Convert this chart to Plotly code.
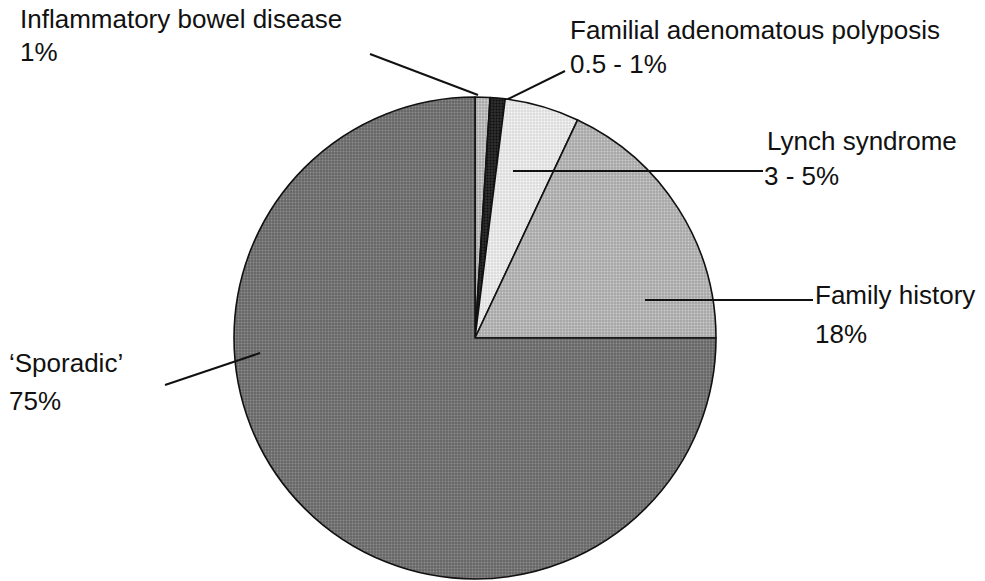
import plotly.graph_objects as go

# Risk categories for colorectal cancer (share of cases, %)
categories = [
    "Inflammatory bowel disease",
    "Familial adenomatous polyposis",
    "Lynch syndrome",
    "Family history",
    "'Sporadic'",
]
values = [1, 1, 5, 18, 75]
value_labels = ["1%", "0.5 - 1%", "3 - 5%", "18%", "75%"]
display_names = [
    "Inflammatory bowel disease",
    "Familial adenomatous polyposis",
    "Lynch syndrome",
    "Family history",
    "\u2018Sporadic\u2019",
]

W, H = 985, 581
slice_colors = ["#a9a9a9", "#2e2e2e", "#dcdcdc", "#a6a6a6", "#666666"]
grain_colors = ["#d6d6d6", "#0e0e0e", "#f8f8f8", "#cdcdcd", "#8e8e8e"]

# pie geometry in pixels
cx, cy, r = 475, 338, 241


def px(x):
    return x / W


def py(y):
    return 1 - y / H


fig = go.Figure(
    go.Pie(
        labels=categories,
        values=values,
        sort=False,
        direction="clockwise",
        rotation=0,
        textinfo="none",
        hoverinfo="label+percent",
        showlegend=False,
        domain=dict(x=[px(cx - r), px(cx + r)], y=[py(cy + r), py(cy - r)]),
        marker=dict(
            colors=slice_colors,
            line=dict(color="#111111", width=1.6),
            pattern=dict(
                shape=".",
                fgcolor=grain_colors,
                bgcolor=slice_colors,
                size=3,
                solidity=0.35,
            ),
        ),
    )
)

# label text: (x left, name-line middle y, value-line middle y)
label_pos = [
    (18, 19, 51.5),
    (568, 30, 63.5),
    (765, 141, 175.5),
    (813, 295, 333.5),
    (7, 363, 400.5),
]
value_x_shift = [0, 0, -3, 0, 0]

font = dict(family="Liberation Sans, Arial, sans-serif", size=26, color="#111111")
annotations = []
for name, val, (lx, y1, y2), dx in zip(display_names, value_labels, label_pos, value_x_shift):
    annotations.append(dict(text=name, x=px(lx), y=py(y1), xref="paper", yref="paper",
                            xanchor="left", yanchor="middle", showarrow=False, font=font))
    annotations.append(dict(text=val, x=px(lx + dx), y=py(y2), xref="paper", yref="paper",
                            xanchor="left", yanchor="middle", showarrow=False, font=font))

# leader lines from each label to its slice
leaders = [
    ((370, 54), (478, 95)),
    ((565, 71), (508, 99)),
    ((763, 171), (513, 171)),
    ((813, 300), (645, 300)),
    ((165, 385), (260, 353)),
]
shapes = []
for (x0, y0), (x1, y1) in leaders:
    shapes.append(dict(type="line", xref="paper", yref="paper",
                       x0=px(x0), y0=py(y0), x1=px(x1), y1=py(y1),
                       line=dict(color="#111111", width=2)))

fig.update_layout(
    width=W,
    height=H,
    margin=dict(l=0, r=0, t=0, b=0),
    paper_bgcolor="white",
    plot_bgcolor="white",
    annotations=annotations,
    shapes=shapes,
)

fig.write_html("out.html")
